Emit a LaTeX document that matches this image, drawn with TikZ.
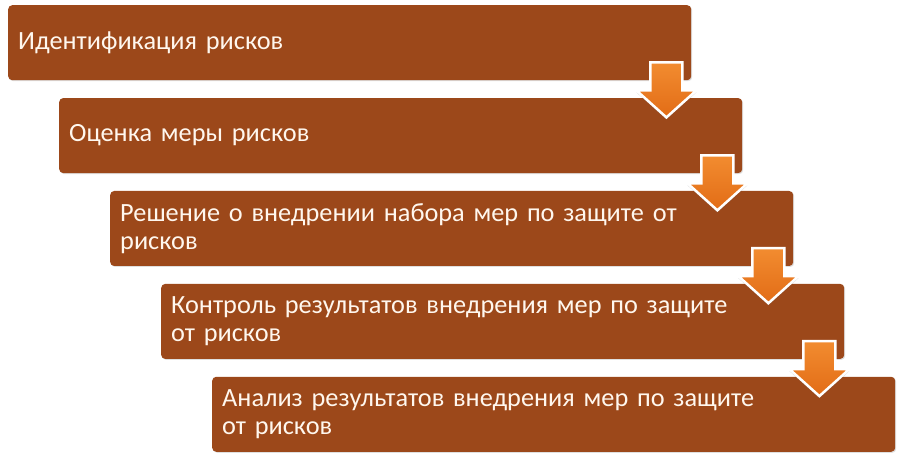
\documentclass[tikz,border=0pt]{standalone}
\usepackage{fontspec}
\setmainfont{Carlito}
\usetikzlibrary{positioning,calc,shadows}

\definecolor{brique}{RGB}{156,72,26}
\definecolor{creme}{RGB}{255,247,238}
\definecolor{orangeH}{RGB}{242,140,48}
\definecolor{orangeB}{RGB}{226,108,22}

\tikzset{
  etape/.style={fill=brique, rounded corners=4pt, text=creme,
    text width=663pt, inner xsep=10pt, inner ysep=0pt,
    minimum height=75pt, align=left,
    font=\fontsize{26.3}{28}\selectfont,
    drop shadow={opacity=0.25, shadow xshift=1pt, shadow yshift=-1pt}},
  fleche/.style={draw=white, line width=2.5pt, line join=miter,
    top color=orangeH, bottom color=orangeB,
    drop shadow={opacity=0.35, shadow xshift=0pt, shadow yshift=-2pt}}
}

% fleche sous le coin droit d'une etape
\newcommand{\fleche}[1]{%
  \begin{scope}[shift={(#1.south east)}]
    \draw[fleche] (-41,-18) -- (-9,-18) -- (-9,10) -- (5,10) -- (-25,37)
      -- (-55,10) -- (-41,10) -- cycle;
  \end{scope}}

\begin{document}
\begin{tikzpicture}[x=1pt, y=-1pt]
\useasboundingbox (0,0) rectangle (900,454);

% Etapes
\node[etape, anchor=north west] (e1) at (8,5) {Идентификация рисков};
\node[etape, below=17.5pt of e1.south west, anchor=north west, xshift=51pt] (e2)
  {Оценка меры рисков};
\node[etape, below=17.5pt of e2.south west, anchor=north west, xshift=51pt] (e3)
  {Решение о внедрении набора мер по защите от\\рисков};
\node[etape, below=17.5pt of e3.south west, anchor=north west, xshift=51pt] (e4)
  {Контроль результатов внедрения мер по защите\\от рисков};
\node[etape, below=17.5pt of e4.south west, anchor=north west, xshift=51pt] (e5)
  {Анализ результатов внедрения мер по защите\\от рисков};

% Fleches
\fleche{e1}
\fleche{e2}
\fleche{e3}
\fleche{e4}
\end{tikzpicture}
\end{document}
